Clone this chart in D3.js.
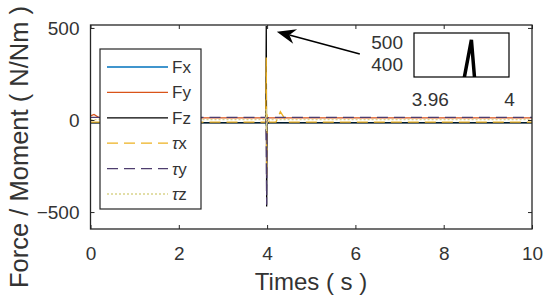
<!DOCTYPE html>
<html>
<head>
<meta charset="utf-8">
<style>
  body { margin: 0; background: #fff; }
  text { font-family: "Liberation Sans", Arial, sans-serif; fill: #333; }
</style>
</head>
<body>
<svg id="chart" width="550" height="301"></svg>
<script src="https://d3js.org/d3.v7.min.js"></script>
<script>
// time samples (s) shared by every series
const time = [0, 0.08, 0.2, 3.97, 3.981, 3.99, 4.0, 4.05, 4.2, 4.3, 4.45, 4.6, 10];

// forces (N) and moments (Nm)
const fx = [-14, -14, -14, -14, -30, 20, -20, -14, -14, -14, -14, -14, -14];
const fy = [22, 30, 12, 12, 40, -20, 15, 12, 12, 12, 12, 12, 12];
const fz = [-16, -16, -16, -16, 510, -470, -16, -16, -16, -16, -16, -16, -16];
const tx = [-12, -12, -12, -12, 340, -300, 30, -12, -12, 45, -12, -12, -12];
const ty = [14, 14, 14, 14, -150, -460, 10, 14, 14, 14, 14, 14, 14];
const tz = [2, 2, 2, 2, 60, -60, 2, 2, 2, 2, 2, 2, 2];

const names = ["Fx", "Fy", "Fz", "\u03c4x", "\u03c4y", "\u03c4z"];
const colors = ["#0072BD", "#D95319", "#000000", "#EDB120", "#4e3d6e", "#d9d48a"];
const dashes = [null, null, null, "11,6", "11,6", "2,2"];

const xTicks = [0, 2, 4, 6, 8, 10];
const yTicks = [-500, 0, 500];
const insetXTicks = [3.96, 4];
const insetYTicks = [400, 500];

// arrow annotation in data units: [time, value]
const arrowTip = [4.22, 480];
const arrowTail = [6.1, 358];

const series = [fx, fy, fz, tx, ty, tz].map((vals, i) => ({
  name: names[i], color: colors[i], dash: dashes[i],
  values: vals.map((v, j) => ({ t: time[j], v: v }))
}));

const svg = d3.select("#chart");
const mLeft = 90.5, mRight = 532, mTop = 25, mBottom = 229;

const x = d3.scaleLinear().domain([0, 10]).range([mLeft, mRight]);
const y = d3.scaleLinear().domain([-592, 516]).range([mBottom, mTop]);

const defs = svg.append("defs");
defs.append("clipPath").attr("id", "clip")
  .append("rect").attr("x", mLeft).attr("y", mTop)
  .attr("width", mRight - mLeft).attr("height", mBottom - mTop);

const line = d3.line().x(d => x(d.t)).y(d => y(d.v));

svg.append("g").attr("clip-path", "url(#clip)")
  .selectAll("path").data(series).join("path")
  .attr("d", d => line(d.values))
  .attr("fill", "none")
  .attr("stroke", d => d.color)
  .attr("stroke-width", 1.3)
  .attr("stroke-dasharray", d => d.dash);

// axes
function styleAxis(g) {
  g.selectAll(".domain").remove();
  g.selectAll(".tick line").attr("stroke", "#262626");
  g.selectAll(".tick text").attr("font-size", 19).attr("fill", "#333");
}

svg.append("g").attr("transform", `translate(0,${mBottom})`)
  .call(d3.axisBottom(x).tickValues(xTicks).tickSize(-4).tickPadding(18).tickFormat(d3.format("d")))
  .call(styleAxis);
svg.append("g").attr("transform", `translate(0,${mTop})`)
  .call(d3.axisTop(x).tickValues(xTicks).tickSize(-4).tickFormat(""))
  .call(styleAxis);
svg.append("g").attr("transform", `translate(${mLeft},0)`)
  .call(d3.axisLeft(y).tickValues(yTicks).tickSize(-4).tickPadding(11).tickFormat(d3.format("d")))
  .call(styleAxis);
svg.append("g").attr("transform", `translate(${mRight},0)`)
  .call(d3.axisRight(y).tickValues(yTicks).tickSize(-4).tickFormat(""))
  .call(styleAxis);

svg.append("rect")
  .attr("x", mLeft).attr("y", mTop)
  .attr("width", mRight - mLeft).attr("height", mBottom - mTop)
  .attr("fill", "none").attr("stroke", "#262626").attr("stroke-width", 1.3);

// axis labels
svg.append("text")
  .attr("x", 311).attr("y", 290)
  .attr("text-anchor", "middle").attr("font-size", 24).attr("fill", "#262626")
  .text("Times ( s )");
svg.append("text")
  .attr("transform", "translate(28,147) rotate(-90)")
  .attr("text-anchor", "middle").attr("font-size", 25.5).attr("fill", "#262626")
  .text("Force / Moment ( N/Nm )");

// legend
const lg = svg.append("g");
lg.append("rect").attr("x", 100).attr("y", 49).attr("width", 101).attr("height", 160)
  .attr("fill", "#fff").attr("stroke", "#262626").attr("stroke-width", 1.2);
const ly = d3.scalePoint().domain(names).range([67, 194]);
const item = lg.selectAll("g.item").data(series).join("g").attr("class", "item")
  .attr("transform", d => `translate(0,${ly(d.name)})`);
item.append("line").attr("x1", 107).attr("x2", 168)
  .attr("stroke", d => d.color).attr("stroke-width", 1.3)
  .attr("stroke-dasharray", d => d.dash);
const lt = item.append("text").attr("x", 172).attr("dy", "0.35em")
  .attr("font-size", 17).attr("fill", "#262626");
lt.each(function (d) {
  const t = d3.select(this);
  if (d.name[0] === "\u03c4") {
    t.append("tspan").attr("font-style", "italic").text(d.name[0]);
    t.append("tspan").text(d.name.slice(1));
  } else {
    t.text(d.name);
  }
});

// arrow
const tipX = x(arrowTip[0]), tipY = y(arrowTip[1]);
const tailX = x(arrowTail[0]), tailY = y(arrowTail[1]);
const ang = Math.atan2(tailY - tipY, tailX - tipX);
const ux = Math.cos(ang), uy = Math.sin(ang);
const hl = 19, hw = 7.5, notch = 13;
svg.append("line")
  .attr("x1", tailX).attr("y1", tailY)
  .attr("x2", tipX + ux * notch).attr("y2", tipY + uy * notch)
  .attr("stroke", "#000").attr("stroke-width", 1.5);
svg.append("path")
  .attr("d", `M${tipX},${tipY}` +
    `L${tipX + ux * hl - uy * hw},${tipY + uy * hl + ux * hw}` +
    `L${tipX + ux * notch},${tipY + uy * notch}` +
    `L${tipX + ux * hl + uy * hw},${tipY + uy * hl - ux * hw}Z`)
  .attr("fill", "#000");

// inset zoom
const ix = d3.scaleLinear().domain([3.952, 4.0]).range([414, 509]);
const iy = d3.scaleLinear().domain([341, 541]).range([77, 33]);
defs.append("clipPath").attr("id", "clip2")
  .append("rect").attr("x", 414).attr("y", 33).attr("width", 95).attr("height", 44);
const iline = d3.line().x(d => ix(d.t)).y(d => iy(d.v));
svg.append("rect").attr("x", 414).attr("y", 33).attr("width", 95).attr("height", 44)
  .attr("fill", "#fff");
svg.append("g").attr("clip-path", "url(#clip2)")
  .append("path").datum(series[2].values)
  .attr("d", iline).attr("fill", "none")
  .attr("stroke", "#000").attr("stroke-width", 3.5);
svg.append("rect").attr("x", 414).attr("y", 33).attr("width", 95).attr("height", 44)
  .attr("fill", "none").attr("stroke", "#000").attr("stroke-width", 1.2);
svg.append("g").attr("transform", "translate(414,0)")
  .call(d3.axisLeft(iy).tickValues(insetYTicks).tickSize(0).tickPadding(11).tickFormat(d3.format("d")))
  .call(styleAxis);
svg.append("g").attr("transform", "translate(0,77)")
  .call(d3.axisBottom(ix).tickValues(insetXTicks).tickSize(0).tickPadding(16).tickFormat(d => String(d)))
  .call(styleAxis);
</script>
</body>
</html>
